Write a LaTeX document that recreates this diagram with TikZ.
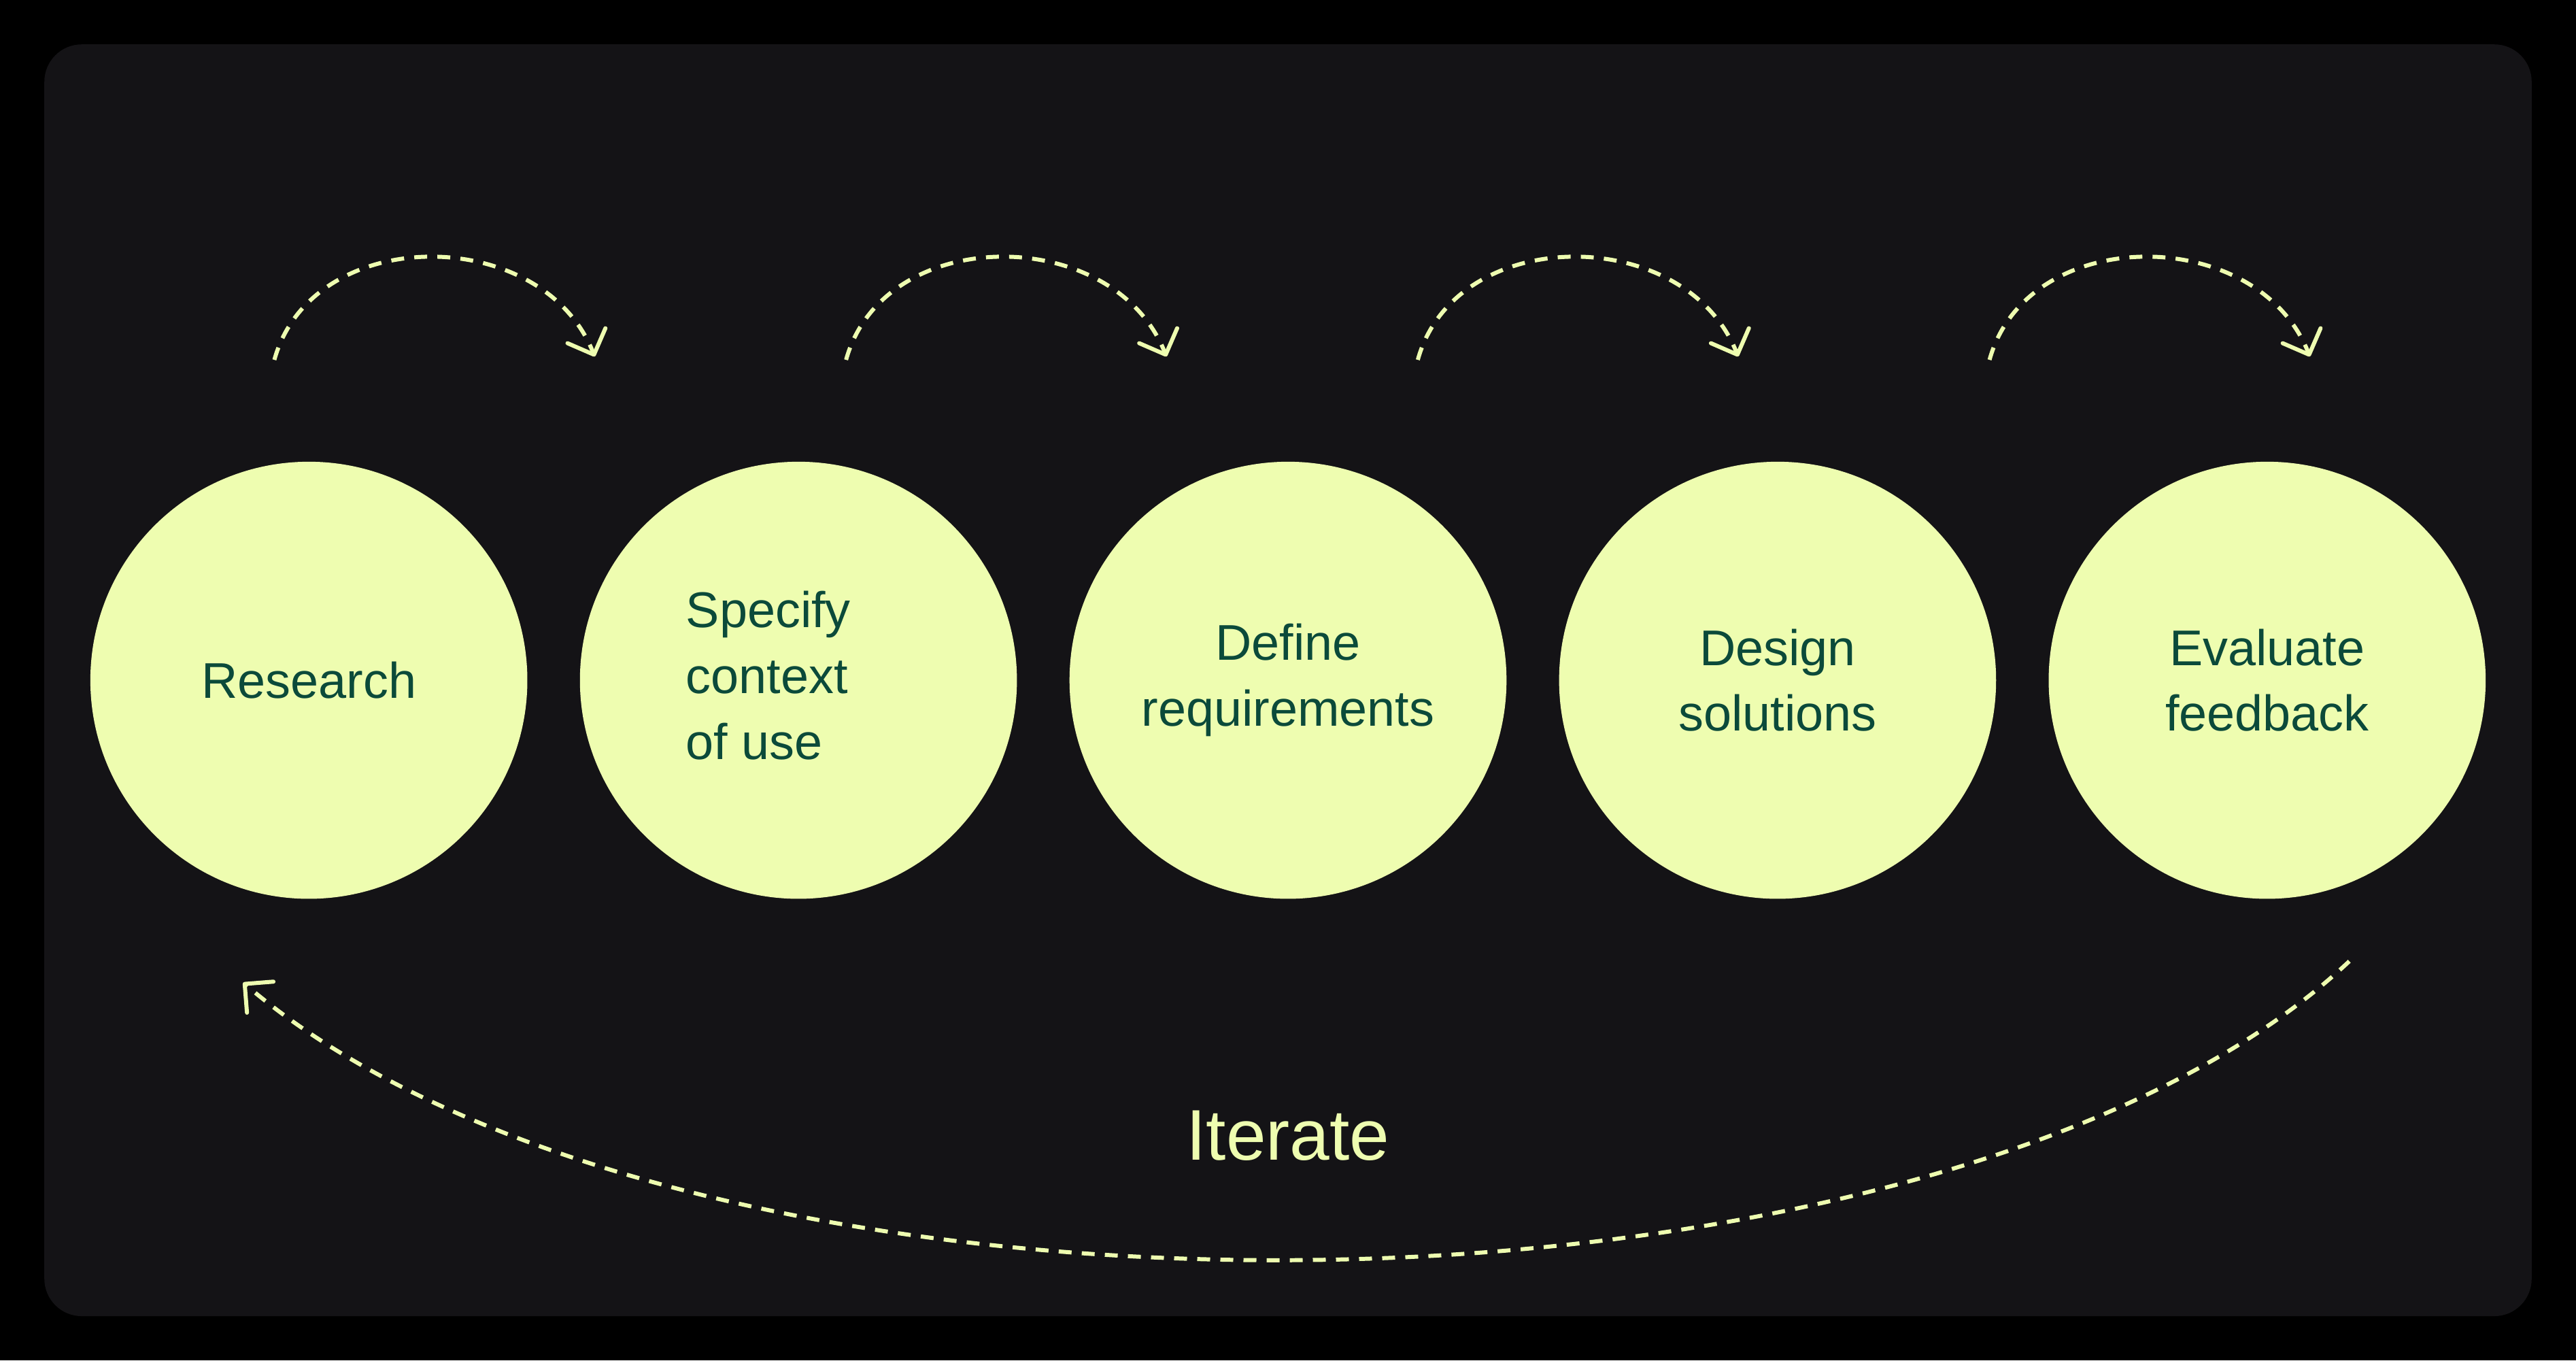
\documentclass[tikz,border=0pt]{standalone}
\usepackage{fontspec}
\setmainfont{Liberation Sans}
\usetikzlibrary{arrows.meta}
\definecolor{bgc}{HTML}{141316}
\definecolor{circ}{HTML}{EEFDB0}
\definecolor{txt}{HTML}{0B4A3A}
\definecolor{arr}{HTML}{EEFDB0}
\begin{document}
\begin{tikzpicture}[x=0.024158cm,y=-0.024158cm,
  stage/.style={circle,fill=circ,minimum size=266*0.024158cm,inner sep=0pt,text=txt,font=\fontsize{21}{27.5}\selectfont,align=center},
  flow/.style={draw=arr,line width=1.7pt,dash pattern=on 0.19cm off 0.15cm,-{Straight Barb[length=0.3cm,width=0.6cm,line cap=round,line join=round]}}]
\fill[black] (0,0) rectangle (1568,828);
\useasboundingbox (0,0) rectangle (1568,828);
\fill[bgc,rounded corners=0.55cm] (27,27) rectangle (1541,801);
\node[stage] (r) at (188,414) {Research};
\node[stage] (s) at (486,414) {\hspace*{-1.2em}\begin{tabular}{@{}l@{}}Specify\\context\\of use\end{tabular}};
\node[stage] (d) at (784,414) {Define\\requirements};
\node[stage] (g) at (1082,414) {Design\\solutions};
\node[stage] (e) at (1380,414) {Evaluate\\feedback};
\foreach \i/\n in {0/a,1/b,2/c,3/d} {
  \coordinate (\n s) at (167+348*\i,219);
  \coordinate (\n e) at (362+348*\i,217);
  \draw[flow] (\n s) .. controls (190+348*\i,136) and (330+348*\i,136) .. (\n e);
}
\coordinate (is) at (1430,585);
\coordinate (ie) at (148,598);
\draw[flow] (is) .. controls (1180,820) and (420,830) .. (ie);
\node[text=arr,font=\fontsize{30}{36}\selectfont] (it) at (784,691) {Iterate};
\end{tikzpicture}
\end{document}
